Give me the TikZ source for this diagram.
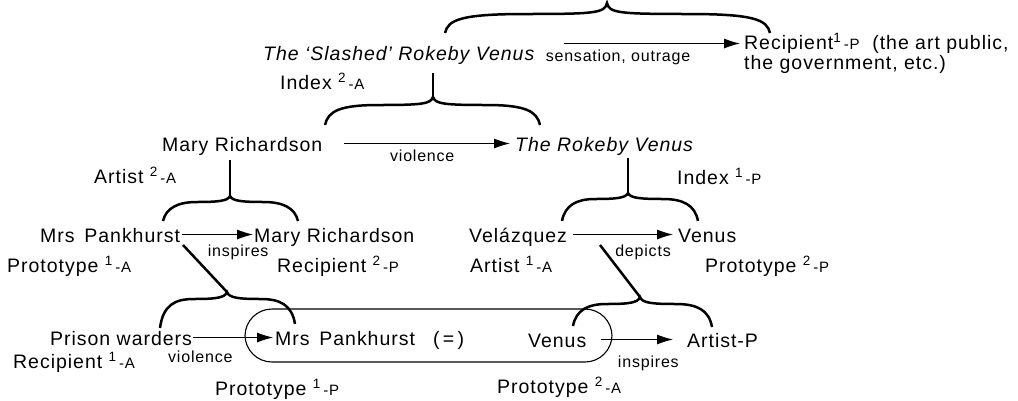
\documentclass[tikz,border=0pt]{standalone}
\usepackage{fontspec}
\setmainfont{Liberation Sans}[LetterSpace=5]
\usetikzlibrary{arrows.meta}

\newcommand{\rolemark}[2]{\raisebox{7pt}{\fontsize{13.5}{13.5}\selectfont #1}\hspace{3pt}{\fontsize{15}{15}\selectfont -#2}}

% brace opening downwards: tip (#1,#2), ends (#3,#4) and (#5,#6), arms #7 below the tip
\newcommand{\upbrace}[7]{%
  \draw[brace] (#3,#4) .. controls (#3+3,#2+#7+6) and (#3+15,#2+#7) .. ({(#1+#3)/2},#2+#7)
    .. controls (#1-12,#2+#7) and (#1-2,#2+#7-1) .. (#1,#2)
    .. controls (#1+2,#2+#7-1) and (#1+12,#2+#7) .. ({(#1+#5)/2},#2+#7)
    .. controls (#5-15,#2+#7) and (#5-3,#2+#7+6) .. (#5,#6);}

\begin{document}
\begin{tikzpicture}[x=1pt,y=-1pt,
    txt/.style={anchor=base west,inner sep=0pt,text height=15pt,text depth=0pt,font=\fontsize{19.5}{21}\selectfont},
    lab/.style={anchor=base,inner sep=0pt,font=\fontsize{16}{18}\selectfont},
    arr/.style={line width=0.9pt,-{Latex[length=16pt,width=10pt]}},
    brace/.style={line width=2.5pt}]
  \useasboundingbox (0,0) rectangle (1018,400);

  % top level
  \node[txt] (sv) at (263,60) {\itshape The ‘Slashed’ Rokeby Venus};
  \node[txt] (ix2) at (280,89) {Index \rolemark{2}{A}};
  \node[txt] (rc1) at (744,49) {Recipient\rolemark{1}{P}~~(the art public,};
  \node[txt] (rc1b) at (744,69) {the government, etc.)};
  \node[lab] (so) at (618,61) {sensation, outrage};
  \draw[arr] (so.north west |- rc1.west) ++(18,2) coordinate (s0) -- ([xshift=-4pt,yshift=-2pt]rc1.west);
  \upbrace{607}{3}{445}{33}{770}{33}{11}

  % second level
  \node[txt] (mr) at (162,151) {Mary Richardson};
  \node[txt] (rv) at (515,151) {\itshape The Rokeby Venus};
  \node[txt] (ar2) at (94,183) {Artist \rolemark{2}{A}};
  \node[txt] (ix1) at (677,184) {Index \rolemark{1}{P}};
  \draw[arr] ([xshift=22pt]mr.east) -- node[lab,pos=0.47,yshift=-17.5pt] {violence} ([xshift=-5pt]rv.west);
  \draw[brace] (433,73) -- (433,97);
  \upbrace{433}{97}{325}{125}{540}{125}{8}

  % third level
  \node[txt] (mp) at (40,242) {Mrs\hspace{0.5em}Pankhurst};
  \node[txt] (mr2) at (254,242) {Mary Richardson};
  \node[txt] (pr1a) at (7,272) {Prototype \rolemark{1}{A}};
  \node[txt] (rc2p) at (277,272) {Recipient \rolemark{2}{P}};
  \node[txt] (vq) at (469,242) {Velázquez};
  \node[txt] (vn) at (678,242) {Venus};
  \node[txt] (ar1) at (470,272) {Artist \rolemark{1}{A}};
  \node[txt] (pr2p) at (705,272) {Prototype \rolemark{2}{P}};
  \draw[arr] ([xshift=2pt]mp.east) -- node[lab,pos=0.79,yshift=-21.5pt] {inspires} ([xshift=-1pt]mr2.west);
  \draw[arr] ([xshift=6pt]vq.east) -- node[lab,pos=0.7,yshift=-21.5pt] {depicts} ([xshift=-5pt]vn.west);
  \draw[brace] (230,160) -- (230,196);
  \upbrace{230}{196}{163}{221}{298}{221}{6}
  \draw[brace] (628,158) -- (628,193);
  \upbrace{628}{193}{562}{221}{698}{221}{6}

  % bottom level
  \node[txt] (pw) at (50,345) {Prison warders};
  \node[txt] (mp2) at (275,345) {Mrs\hspace{0.5em}Pankhurst};
  \node[txt] (eq) at (433,345) {(\,=\,)};
  \node[txt] (vn2) at (528,347) {Venus};
  \node[txt] (arp) at (687,347) {Artist-P};
  \node[txt] (rc1a) at (13,368) {Recipient \rolemark{1}{A}};
  \node[txt] (pr1p) at (215,395) {Prototype \rolemark{1}{P}};
  \node[txt] (pr2a) at (497,393) {Prototype \rolemark{2}{A}};
  \draw[arr] ([xshift=1pt]pw.east) -- node[lab,pos=0.09,yshift=-24.5pt] {violence} ([xshift=-2pt]mp2.west);
  \draw[arr] ([xshift=14pt]vn2.east) -- node[lab,pos=0.66,yshift=-27.5pt] {inspires} ([xshift=-14pt]arp.west);
  \draw[line width=1.1pt,rounded corners=27pt] (245,309) rectangle (612,362);
  \draw[brace] (183,245) -- (227,292);
  \upbrace{227}{292}{160}{328}{295}{324}{7}
  \draw[brace] (600,245) -- (640,297);
  \upbrace{640}{297}{573}{326}{712}{327}{7}
\end{tikzpicture}
\end{document}
